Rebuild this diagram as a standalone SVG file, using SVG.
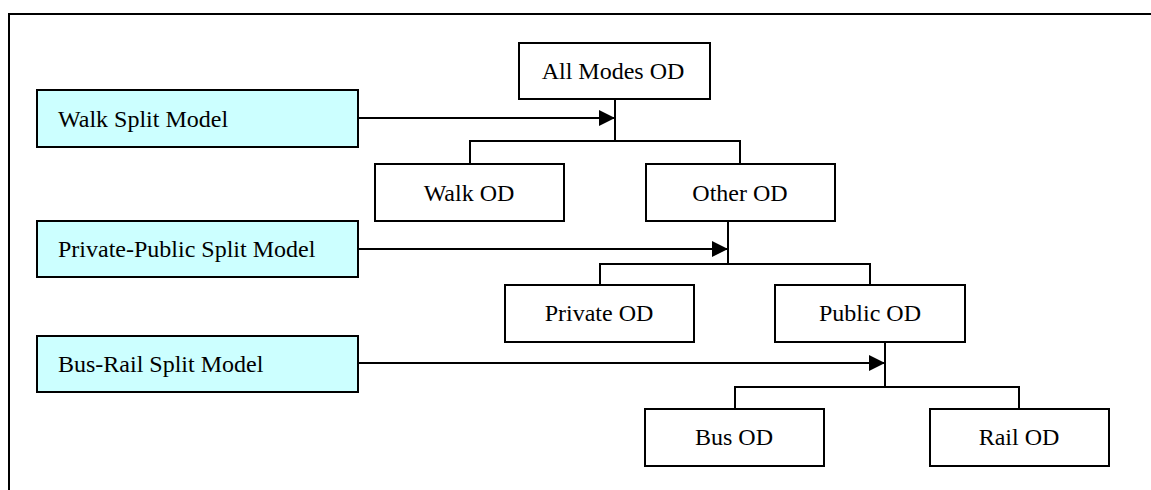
<svg xmlns="http://www.w3.org/2000/svg" width="1151" height="490" viewBox="0 0 1151 490">
<style>
.box{fill:#fff;stroke:#000;stroke-width:2}
.model{fill:#ccffff;stroke:#000;stroke-width:2}
.t{font-family:"Liberation Serif","Times New Roman",serif;font-size:24px;fill:#000}
.c{text-anchor:middle}
.ln{fill:none;stroke:#000;stroke-width:2}
</style>
<defs>
<marker id="ah" markerUnits="userSpaceOnUse" markerWidth="17" markerHeight="16" refX="16" refY="8" orient="auto">
<path d="M0,0 L16,8 L0,16 z" fill="#000"/>
</marker>
</defs>
<rect width="1151" height="490" fill="#fff"/>
<path class="ln" d="M9,490 V14 H1151" stroke-width="2.5"/>

<g id="connectors">
<path class="ln" d="M358,118 H615" marker-end="url(#ah)"/>
<path class="ln" d="M615,99 V141 M470,164 V141 H740 V164"/>
<path class="ln" d="M358,249 H728" marker-end="url(#ah)"/>
<path class="ln" d="M728,221 V264 M600,285 V264 H870 V285"/>
<path class="ln" d="M358,363 H885" marker-end="url(#ah)"/>
<path class="ln" d="M885,342 V387 M735,409 V387 H1019 V409"/>
</g>

<g id="walk-split-model"><rect class="model" x="37" y="90" width="321" height="57"/><text class="t" x="58" y="127">Walk Split Model</text></g>
<g id="private-public-split-model"><rect class="model" x="37" y="221" width="321" height="56"/><text class="t" x="58" y="257">Private-Public Split Model</text></g>
<g id="bus-rail-split-model"><rect class="model" x="37" y="336" width="321" height="56"/><text class="t" x="58" y="372">Bus-Rail Split Model</text></g>

<g id="all-modes-od"><rect class="box" x="519" y="43" width="191" height="56"/><text class="t c" x="613" y="79">All Modes OD</text></g>
<g id="walk-od"><rect class="box" x="375" y="164" width="189" height="57"/><text class="t c" x="469" y="201">Walk OD</text></g>
<g id="other-od"><rect class="box" x="646" y="164" width="189" height="57"/><text class="t c" x="740" y="201">Other OD</text></g>
<g id="private-od"><rect class="box" x="505" y="285" width="189" height="57"/><text class="t c" x="599" y="321">Private OD</text></g>
<g id="public-od"><rect class="box" x="775" y="285" width="190" height="57"/><text class="t c" x="870" y="321">Public OD</text></g>
<g id="bus-od"><rect class="box" x="645" y="409" width="179" height="57"/><text class="t c" x="734" y="445">Bus OD</text></g>
<g id="rail-od"><rect class="box" x="930" y="409" width="179" height="57"/><text class="t c" x="1019" y="445">Rail OD</text></g>
</svg>
